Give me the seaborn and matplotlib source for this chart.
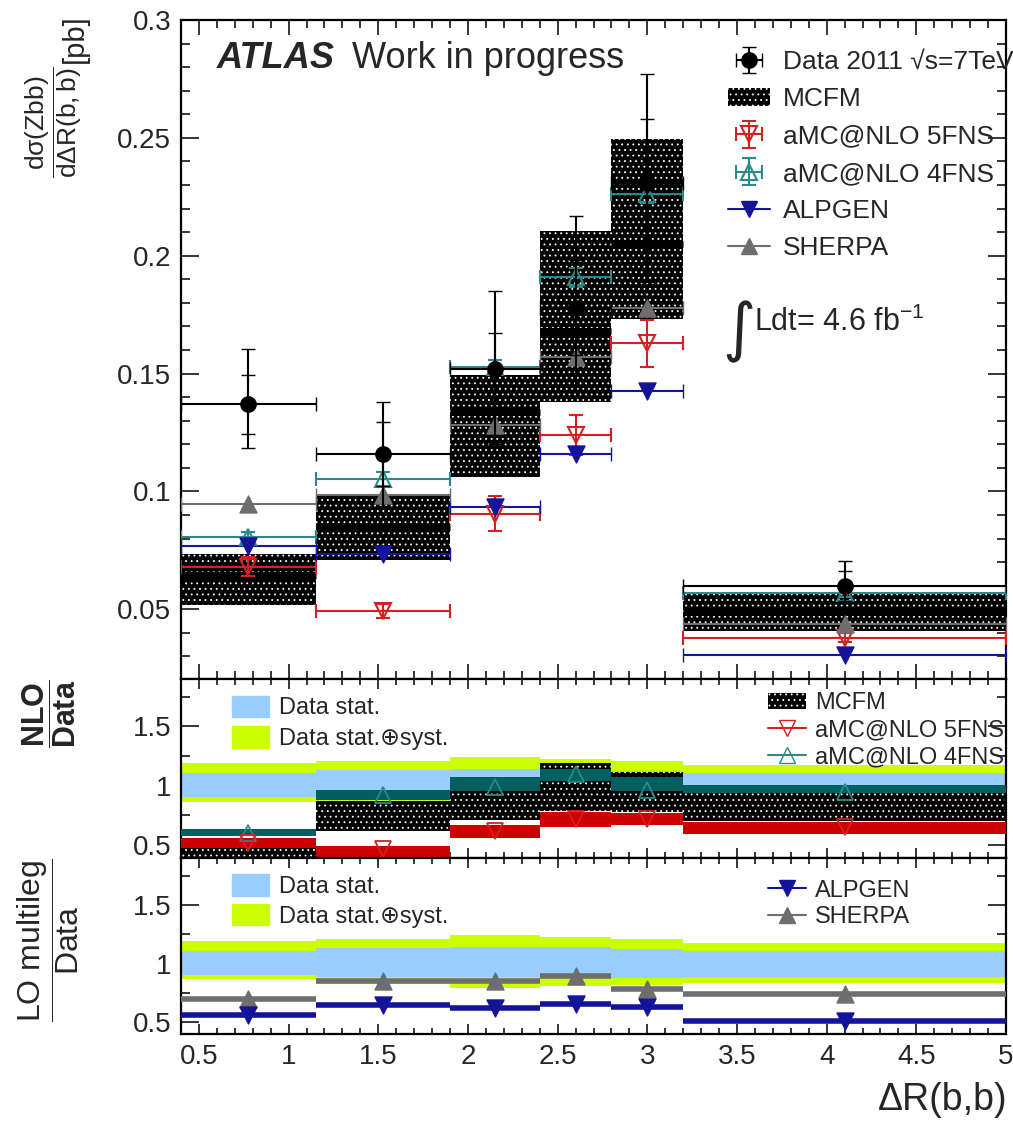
import matplotlib
matplotlib.use('Agg')
import matplotlib.pyplot as plt
import seaborn as sns
import numpy as np
from matplotlib.patches import Patch
from matplotlib.lines import Line2D
from matplotlib.ticker import MultipleLocator, StrMethodFormatter

# Delta R(b,b) binning
bin_edges = [0.4, 1.15, 1.9, 2.4, 2.8, 3.2, 5.0]

# data 2011 (pb)
data_xsec = [0.137, 0.116, 0.152, 0.178, 0.231, 0.060]
data_stat = [0.0125, 0.0135, 0.015, 0.020, 0.027, 0.0063]
data_tot_up = [0.0236, 0.0218, 0.033, 0.039, 0.046, 0.0105]
data_tot_dn = [0.0185, 0.022, 0.032, 0.035, 0.042, 0.0095]

# MCFM band
mcfm_lo = [0.0518, 0.0708, 0.1059, 0.1378, 0.1732, 0.0408]
mcfm_hi = [0.0736, 0.0988, 0.1494, 0.2103, 0.2493, 0.0570]
mcfm_mid = [0.0645, 0.085, 0.1335, 0.168, 0.205, 0.049]

# other predictions
amc5_xsec = [0.068, 0.0493, 0.0906, 0.1239, 0.1629, 0.0379]
amc5_err = [0.004, 0.003, 0.0073, 0.0085, 0.010, 0.002]
amc4_xsec = [0.0807, 0.1052, 0.1527, 0.1909, 0.2263, 0.0570]
amc4_err = [0.002, 0.003, 0.003, 0.004, 0.004, 0.002]
alpgen_xsec = [0.0769, 0.0736, 0.0932, 0.1158, 0.1427, 0.0305]
sherpa_xsec = [0.0946, 0.0985, 0.128, 0.157, 0.178, 0.0438]

# ratio panels: data bands
stat_lo = [0.905, 0.885, 0.885, 0.885, 0.875, 0.885]
stat_hi = [1.11, 1.13, 1.145, 1.14, 1.125, 1.11]
syst_lo = [0.865, 0.83, 0.79, 0.81, 0.815, 0.835]
syst_hi = [1.19, 1.21, 1.24, 1.225, 1.21, 1.175]

# NLO / data
mcfm_r_lo = [0.37, 0.62, 0.71, 0.79, 0.775, 0.70]
mcfm_r_hi = [0.52, 0.875, 0.985, 1.195, 1.115, 0.945]
amc5_r_lo = [0.477, 0.39, 0.556, 0.655, 0.669, 0.590]
amc5_r_hi = [0.562, 0.49, 0.669, 0.774, 0.768, 0.695]
amc5_r = [0.52, 0.47, 0.62, 0.72, 0.72, 0.655]
amc4_r_lo = [0.576, 0.879, 0.952, 1.042, 0.958, 0.938]
amc4_r_hi = [0.633, 0.963, 1.071, 1.141, 1.071, 1.008]
amc4_r = [0.60, 0.92, 0.99, 1.10, 0.96, 0.95]

# LO multileg / data
alpgen_r = [0.561, 0.646, 0.626, 0.660, 0.629, 0.513]
sherpa_r = [0.697, 0.853, 0.853, 0.892, 0.782, 0.742]

RED = '#d42020'
REDBAND = '#cc0000'
TEAL = '#2a8a8a'
TEALBAND = '#006060'
BLUE = '#14149a'
GRAY = '#6e6e6e'
LBLUE = '#99ccff'
YGREEN = '#ccff00'
HATCH = '...'

sns.set_style('ticks')
plt.rcParams['font.family'] = ['Liberation Sans', 'DejaVu Sans']
plt.rcParams['mathtext.fontset'] = 'custom'
plt.rcParams['mathtext.rm'] = 'Liberation Sans'
plt.rcParams['mathtext.it'] = 'Liberation Sans:italic'
plt.rcParams['mathtext.bf'] = 'Liberation Sans:bold'
plt.rcParams['hatch.linewidth'] = 0.6

edges = np.array(bin_edges)
left = edges[:-1]
right = edges[1:]
width = right - left
centers = (left + right) / 2
xerr = [centers - left, right - centers]

fig = plt.figure(figsize=(10.13, 11.22), dpi=100)
ax1 = fig.add_axes([0.1787, 0.3948, 0.8144, 0.5874])
ax2 = fig.add_axes([0.1787, 0.2353, 0.8144, 0.1595])
ax3 = fig.add_axes([0.1787, 0.0784, 0.8144, 0.1569])

# ---- top panel
ax1.bar(left, np.array(mcfm_hi) - np.array(mcfm_lo), bottom=mcfm_lo, width=width,
        align='edge', facecolor='black', edgecolor='white', hatch=HATCH, linewidth=0, zorder=1)
ax1.hlines(mcfm_mid, left, right, color='black', lw=5, zorder=1)

h_amc5 = ax1.errorbar(centers, amc5_xsec, xerr=xerr, yerr=amc5_err, fmt='v', color=RED,
                      mfc='none', mec=RED, ms=12, mew=1.5, capsize=5, elinewidth=1.5, zorder=3)
h_amc4 = ax1.errorbar(centers, amc4_xsec, xerr=xerr, yerr=amc4_err, fmt='^', color=TEAL,
                      mfc='none', mec=TEAL, ms=12, mew=1.5, capsize=5, elinewidth=1.5, zorder=3)
ax1.errorbar(centers, alpgen_xsec, xerr=xerr, fmt='none', color=BLUE,
             capsize=5, elinewidth=1.5, zorder=3)
ax1.errorbar(centers, sherpa_xsec, xerr=xerr, fmt='none', color=GRAY,
             capsize=5, elinewidth=1.5, zorder=3)
sns.scatterplot(x=centers, y=alpgen_xsec, marker='v', color=BLUE, edgecolor=BLUE, s=150, ax=ax1, zorder=4)
sns.scatterplot(x=centers, y=sherpa_xsec, marker='^', color=GRAY, edgecolor=GRAY, s=150, ax=ax1, zorder=4)

ax1.errorbar(centers, data_xsec, yerr=data_stat, fmt='none', color='black',
             capsize=5, elinewidth=1.5, zorder=5)
h_data = ax1.errorbar(centers, data_xsec, xerr=xerr, yerr=[data_tot_dn, data_tot_up], fmt='o',
                      color='black', ms=11, capsize=5, elinewidth=1.5, zorder=5)

ax1.set_xlim(0.4, 5.0)
ax1.set_ylim(0.0204, 0.3)

ax1.text(0.0436, 0.927, 'ATLAS', transform=ax1.transAxes, fontsize=26,
         fontweight='bold', fontstyle='italic', va='baseline')
ax1.text(0.207, 0.927, 'Work in progress', transform=ax1.transAxes, fontsize=26, va='baseline')
ax1.text(0.656, 0.50, '∫', transform=ax1.transAxes, fontsize=46, family='DejaVu Sans', va='baseline')
ax1.text(0.694, 0.528, 'Ldt= 4.6 fb$^{-1}$', transform=ax1.transAxes, fontsize=22, va='baseline')

mcfm_patch = Patch(facecolor='black', edgecolor='white', hatch=HATCH, linewidth=0)
ax1.legend([h_data, mcfm_patch, h_amc5, h_amc4,
            Line2D([], [], color=BLUE, marker='v', ms=12, lw=1.5),
            Line2D([], [], color=GRAY, marker='^', ms=12, lw=1.5)],
           ['Data 2011 √s=7TeV', 'MCFM', 'aMC@NLO 5FNS', 'aMC@NLO 4FNS', 'ALPGEN', 'SHERPA'],
           loc='upper left', bbox_to_anchor=(0.65, 0.97), frameon=False, fontsize=19,
           handlelength=1.6, handletextpad=0.5, labelspacing=0.5, borderaxespad=0)

# ---- NLO / data
ax2.bar(left, np.array(syst_hi) - np.array(syst_lo), bottom=syst_lo, width=width,
        align='edge', color=YGREEN, linewidth=0, zorder=1)
ax2.bar(left, np.array(stat_hi) - np.array(stat_lo), bottom=stat_lo, width=width,
        align='edge', color=LBLUE, linewidth=0, zorder=1)
ax2.bar(left, np.array(mcfm_r_hi) - np.array(mcfm_r_lo), bottom=mcfm_r_lo, width=width,
        align='edge', facecolor='black', edgecolor='white', hatch=HATCH, linewidth=0, zorder=2)
ax2.bar(left, np.array(amc4_r_hi) - np.array(amc4_r_lo), bottom=amc4_r_lo, width=width,
        align='edge', color=TEALBAND, linewidth=0, zorder=3)
ax2.bar(left, np.array(amc5_r_hi) - np.array(amc5_r_lo), bottom=amc5_r_lo, width=width,
        align='edge', color=REDBAND, linewidth=0, zorder=3)
ax2.plot(centers, amc4_r, '^', mfc='none', mec=TEAL, ms=11, mew=1.3, zorder=4)
ax2.plot(centers, amc5_r, 'v', mfc='none', mec=RED, ms=11, mew=1.3, zorder=4)
ax2.set_xlim(0.4, 5.0)
ax2.set_ylim(0.39, 1.9)

band_handles = [Patch(color=LBLUE), Patch(color=YGREEN)]
band_labels = ['Data stat.', 'Data stat.⊕syst.']
lg = ax2.legend(band_handles, band_labels, loc='upper left', bbox_to_anchor=(0.05, 0.96),
                frameon=False, fontsize=17, handlelength=1.6, handleheight=1.0,
                handletextpad=0.4, labelspacing=0.3, borderaxespad=0)
ax2.add_artist(lg)
ax2.legend([Patch(facecolor='black', edgecolor='white', hatch=HATCH, linewidth=0),
            Line2D([], [], color=RED, marker='v', mfc='none', ms=12, lw=1.5),
            Line2D([], [], color=TEAL, marker='^', mfc='none', ms=12, lw=1.5)],
           ['MCFM', 'aMC@NLO 5FNS', 'aMC@NLO 4FNS'],
           loc='upper left', bbox_to_anchor=(0.70, 0.98), frameon=False, fontsize=17,
           handlelength=1.6, handletextpad=0.4, labelspacing=0.22, borderaxespad=0)

# ---- LO multileg / data
ax3.bar(left, np.array(syst_hi) - np.array(syst_lo), bottom=syst_lo, width=width,
        align='edge', color=YGREEN, linewidth=0, zorder=1)
ax3.bar(left, np.array(stat_hi) - np.array(stat_lo), bottom=stat_lo, width=width,
        align='edge', color=LBLUE, linewidth=0, zorder=1)
ax3.hlines(sherpa_r, left, right, color=GRAY, lw=4, zorder=3)
ax3.hlines(alpgen_r, left, right, color=BLUE, lw=4, zorder=3)
sns.scatterplot(x=centers, y=sherpa_r, marker='^', color=GRAY, edgecolor=GRAY, s=150, ax=ax3, zorder=4)
sns.scatterplot(x=centers, y=alpgen_r, marker='v', color=BLUE, edgecolor=BLUE, s=150, ax=ax3, zorder=4)
ax3.set_xlim(0.4, 5.0)
ax3.set_ylim(0.40, 1.9)

lg3 = ax3.legend(band_handles, band_labels, loc='upper left', bbox_to_anchor=(0.05, 0.96),
                 frameon=False, fontsize=17, handlelength=1.6, handleheight=1.0,
                 handletextpad=0.4, labelspacing=0.25, borderaxespad=0)
ax3.add_artist(lg3)
ax3.legend([Line2D([], [], color=BLUE, marker='v', ms=12, lw=1.5),
            Line2D([], [], color=GRAY, marker='^', ms=12, lw=1.5)],
           ['ALPGEN', 'SHERPA'],
           loc='upper left', bbox_to_anchor=(0.70, 0.93), frameon=False, fontsize=17,
           handlelength=1.6, handletextpad=0.4, labelspacing=0.2, borderaxespad=0)

# ---- axes cosmetics
for ax in (ax1, ax2, ax3):
    for s in ax.spines.values():
        s.set_linewidth(1.6)
        s.set_color('black')
    ax.xaxis.set_major_locator(MultipleLocator(0.5))
    ax.xaxis.set_minor_locator(MultipleLocator(0.1))
    ax.xaxis.set_major_formatter(StrMethodFormatter('{x:g}'))
    ax.yaxis.set_major_formatter(StrMethodFormatter('{x:g}'))
    ax.tick_params(which='both', direction='in', top=True, right=True, labelsize=20, width=1.3, pad=7)
    ax.tick_params(which='major', length=13)
    ax.tick_params(which='minor', length=6.5)

ax1.yaxis.set_major_locator(MultipleLocator(0.05))
ax1.yaxis.set_minor_locator(MultipleLocator(0.01))
ax1.tick_params(axis='x', which='major', length=11)
ax1.tick_params(axis='x', which='minor', length=6)
for ax in (ax2, ax3):
    ax.yaxis.set_major_locator(MultipleLocator(0.5))
    ax.yaxis.set_minor_locator(MultipleLocator(0.25))
    ax.tick_params(axis='x', which='major', length=7)
    ax.tick_params(axis='x', which='minor', length=4)
ax1.tick_params(labelbottom=False)
ax2.tick_params(labelbottom=False)

# y titles, ROOT style at the top of each pad
fig.text(0.074, 0.987, '[pb]', rotation=90, fontsize=21, ha='center', va='top')
fig.text(0.053, 0.941, r'$\dfrac{\mathrm{dσ(Zbb)}}{\mathrm{dΔR(b,b)}}$', rotation=90,
         fontsize=19, ha='center', va='top')
fig.text(0.049, 0.394, r'$\dfrac{\mathbf{NLO}}{\mathbf{Data}}$', rotation=90,
         fontsize=22, ha='center', va='top')
fig.text(0.047, 0.235, r'$\dfrac{\mathrm{LO\ multileg}}{\mathrm{Data}}$', rotation=90,
         fontsize=23, ha='center', va='top')
fig.text(0.995, 0.004, 'ΔR(b,b)', fontsize=27, ha='right', va='bottom')

fig.savefig('out.png', dpi=100)
